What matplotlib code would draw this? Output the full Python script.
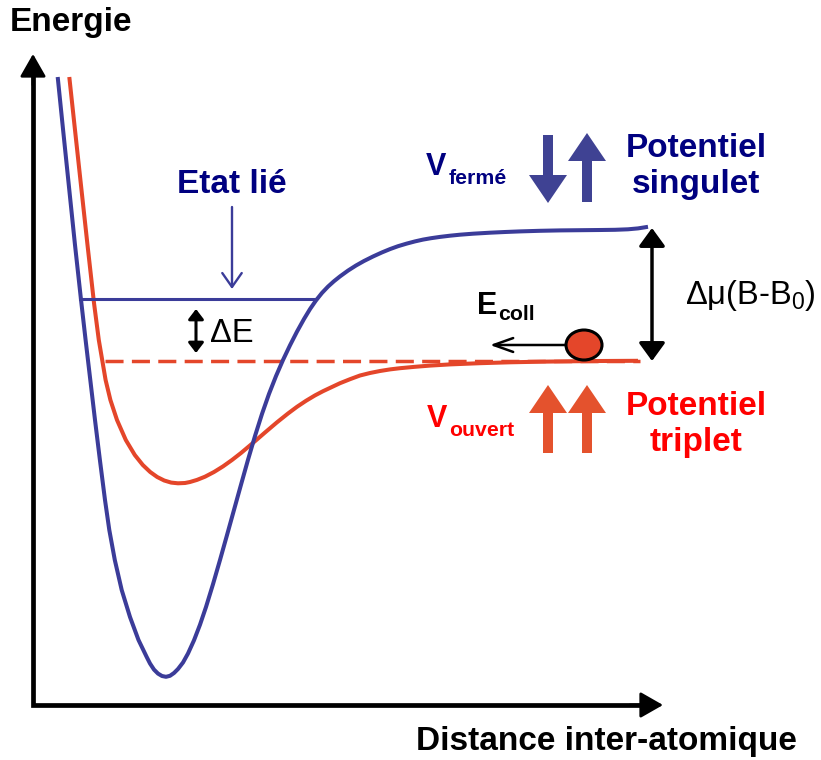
import matplotlib
matplotlib.use("Agg")
import matplotlib.pyplot as plt
from matplotlib.patches import Ellipse

plt.rcParams["font.family"] = ["Liberation Sans", "DejaVu Sans"]
plt.rcParams["mathtext.fontset"] = "custom"
plt.rcParams["mathtext.rm"] = "Liberation Sans"
plt.rcParams["mathtext.default"] = "regular"

# courbes (x, y en pixels, y vers le bas)
blue_x = [57.7, 63.1, 69.3, 75.0, 80.7, 85.6, 90.3, 95.0, 99.9, 105.0, 109.3, 114.8,
          121.7, 130.0, 138.5, 146.7, 150, 154, 158, 162, 166, 170, 174, 178, 183, 188,
          194, 200, 206, 213, 220, 227, 234, 241, 248, 255, 262, 269, 276, 283, 290,
          297, 304, 310, 316, 322, 328, 334, 340, 348, 356, 364, 373, 382, 390, 398,
          406.7, 415, 423, 431, 440, 450, 460, 473, 490, 505, 520, 540, 560, 580, 600,
          615, 628, 638, 648]
blue_y = [77, 130, 190, 245, 297, 340, 380, 420, 460, 500, 530, 560,
          590, 617, 640, 657, 663.5, 669.6, 673.6, 676, 676.8, 675.8, 673, 669, 662.5, 653.5,
          640.3, 624.7, 607, 584.2, 560, 535.1, 509.9, 484.7, 459.8, 436, 413.9, 393.9, 376.1, 360, 345.3,
          331.6, 319, 309.1, 300.4, 292.9, 286.6, 281.2, 276.4, 270.6, 265.5, 261, 256.5, 252.4, 249.1, 246.2,
          243.6, 241.4, 239.6, 238.2, 236.9, 235.7, 234.7, 233.7, 232.7, 232, 231.4, 230.8, 230.4, 230.2, 230,
          229.8, 229.3, 228.4, 226.8]

red_x = [69.3, 75.0, 81.5, 87.5, 94.0, 98.8, 105.6, 110.4, 117.0, 125.8, 134.8, 142.8,
         150.2, 157.2, 164.2, 171.2, 178, 185, 190, 197, 205, 214, 223, 232, 241, 253,
         265, 277, 288, 297, 306, 315, 323, 330, 340, 350, 360, 370, 380, 390, 400, 415,
         430, 450, 480, 510, 540, 570, 600, 638]
red_y = [77, 130, 190, 245, 303, 340, 380, 400, 420, 440, 455, 465,
         472, 477, 480.5, 482.6, 483.3, 483, 482, 479.9, 476.7, 472, 466.4, 460, 453, 442.9,
         432.5, 422.3, 413.5, 406.8, 400.8, 395.4, 391.2, 387.9, 383.2, 379.2, 375.5, 373, 371, 369.4, 368.2, 366.8,
         365.6, 364.4, 363.2, 362.3, 361.7, 361.3, 361, 360.8]

bound_x = [80, 316]
bound_y = [299, 299]
open_level_x = [105, 640]
open_level_y = [360.5, 360.5]

blue = "#3b3c99"
red = "#e4462a"
navy = "#000080"
bright_red = "#ff0000"
spin_blue = "#3f4293"
spin_red = "#e4522d"

fig = plt.figure(figsize=(8.21, 7.6), dpi=100)
ax = fig.add_axes([0, 0, 1, 1])
ax.set_xlim(0, 821)
ax.set_ylim(760, 0)
ax.axis("off")

# axes
ax.plot([33, 33, 650], [70, 705, 705], color="black", lw=3.4, solid_joinstyle="miter")
ax.annotate("", xy=(33, 54), xytext=(33, 85),
            arrowprops=dict(arrowstyle="-|>,head_length=0.7,head_width=0.4",
                            mutation_scale=20, lw=2, color="black", shrinkA=0, shrinkB=0))
ax.annotate("", xy=(663, 705), xytext=(630, 705),
            arrowprops=dict(arrowstyle="-|>,head_length=0.7,head_width=0.4",
                            mutation_scale=20, lw=2, color="black", shrinkA=0, shrinkB=0))

# potentiels
ax.plot(open_level_x, open_level_y, color=red, lw=2.5, dashes=(5.2, 2.4))
ax.plot(red_x, red_y, color=red, lw=2.9, solid_capstyle="butt", solid_joinstyle="round")
ax.plot(blue_x, blue_y, color=blue, lw=2.9, solid_capstyle="butt", solid_joinstyle="round")
ax.plot(bound_x, bound_y, color=blue, lw=2.2)

# fleches
ax.annotate("", xy=(232, 289), xytext=(232, 207),
            arrowprops=dict(arrowstyle="->,head_length=0.5,head_width=0.35",
                            mutation_scale=20, lw=1.7, color=blue, shrinkA=0, shrinkB=0))
ax.annotate("", xy=(196, 309), xytext=(196, 353),
            arrowprops=dict(arrowstyle="<|-|>,head_length=0.3,head_width=0.23",
                            mutation_scale=20, lw=2.2, color="black", shrinkA=0, shrinkB=0))
ax.annotate("", xy=(652, 228), xytext=(652, 361),
            arrowprops=dict(arrowstyle="<|-|>,head_length=0.55,head_width=0.4",
                            mutation_scale=20, lw=2.5, color="black", shrinkA=0, shrinkB=0))
ax.annotate("", xy=(490, 345), xytext=(567, 345),
            arrowprops=dict(arrowstyle="->,head_length=0.7,head_width=0.25",
                            mutation_scale=20, lw=1.8, color="black", shrinkA=0, shrinkB=0))

# spins
ax.arrow(548, 135, 0, 68, width=10, head_width=38, head_length=28,
         length_includes_head=True, color=spin_blue, lw=0)
ax.arrow(587, 202, 0, -69, width=10, head_width=38, head_length=28,
         length_includes_head=True, color=spin_blue, lw=0)
for sx in [548, 587]:
    ax.arrow(sx, 453, 0, -68, width=10, head_width=38, head_length=28,
             length_includes_head=True, color=spin_red, lw=0)

ax.add_patch(Ellipse((584, 345), 36, 30, facecolor=red, edgecolor="black", lw=2.2, zorder=5))

# textes
big = 24
small = 15.3
ax.text(10, 31, "Energie", fontsize=big, fontweight="bold", va="baseline")
ax.text(606, 750, "Distance inter-atomique", fontsize=big, fontweight="bold",
        ha="center", va="baseline")
ax.text(232, 193, "Etat lié", fontsize=big, fontweight="bold", color=navy,
        ha="center", va="baseline")
ax.text(210, 342, "ΔE", fontsize=23.5, va="baseline")
ax.text(685, 304, "Δμ(B-B$_0$)", fontsize=23.5, va="baseline")

ax.text(696, 157, "Potentiel", fontsize=big, fontweight="bold", color=navy,
        ha="center", va="baseline")
ax.text(696, 193.5, "singulet", fontsize=big, fontweight="bold", color=navy,
        ha="center", va="baseline")
ax.text(696, 415, "Potentiel", fontsize=big, fontweight="bold", color=bright_red,
        ha="center", va="baseline")
ax.text(696, 451.5, "triplet", fontsize=big, fontweight="bold", color=bright_red,
        ha="center", va="baseline")

ax.text(426, 175, "V", fontsize=22, fontweight="bold", color=navy, va="baseline")
ax.text(449, 183.5, "fermé", fontsize=small, fontweight="bold", color=navy, va="baseline")
ax.text(427, 427, "V", fontsize=22, fontweight="bold", color=bright_red, va="baseline")
ax.text(449, 435.5, "ouvert", fontsize=small, fontweight="bold", color=bright_red, va="baseline")
ax.text(477, 313.5, "E", fontsize=22, fontweight="bold", color="black", va="baseline")
ax.text(498, 320.5, "coll", fontsize=small, fontweight="bold", color="black", va="baseline")

fig.savefig("out.png", dpi=100)
